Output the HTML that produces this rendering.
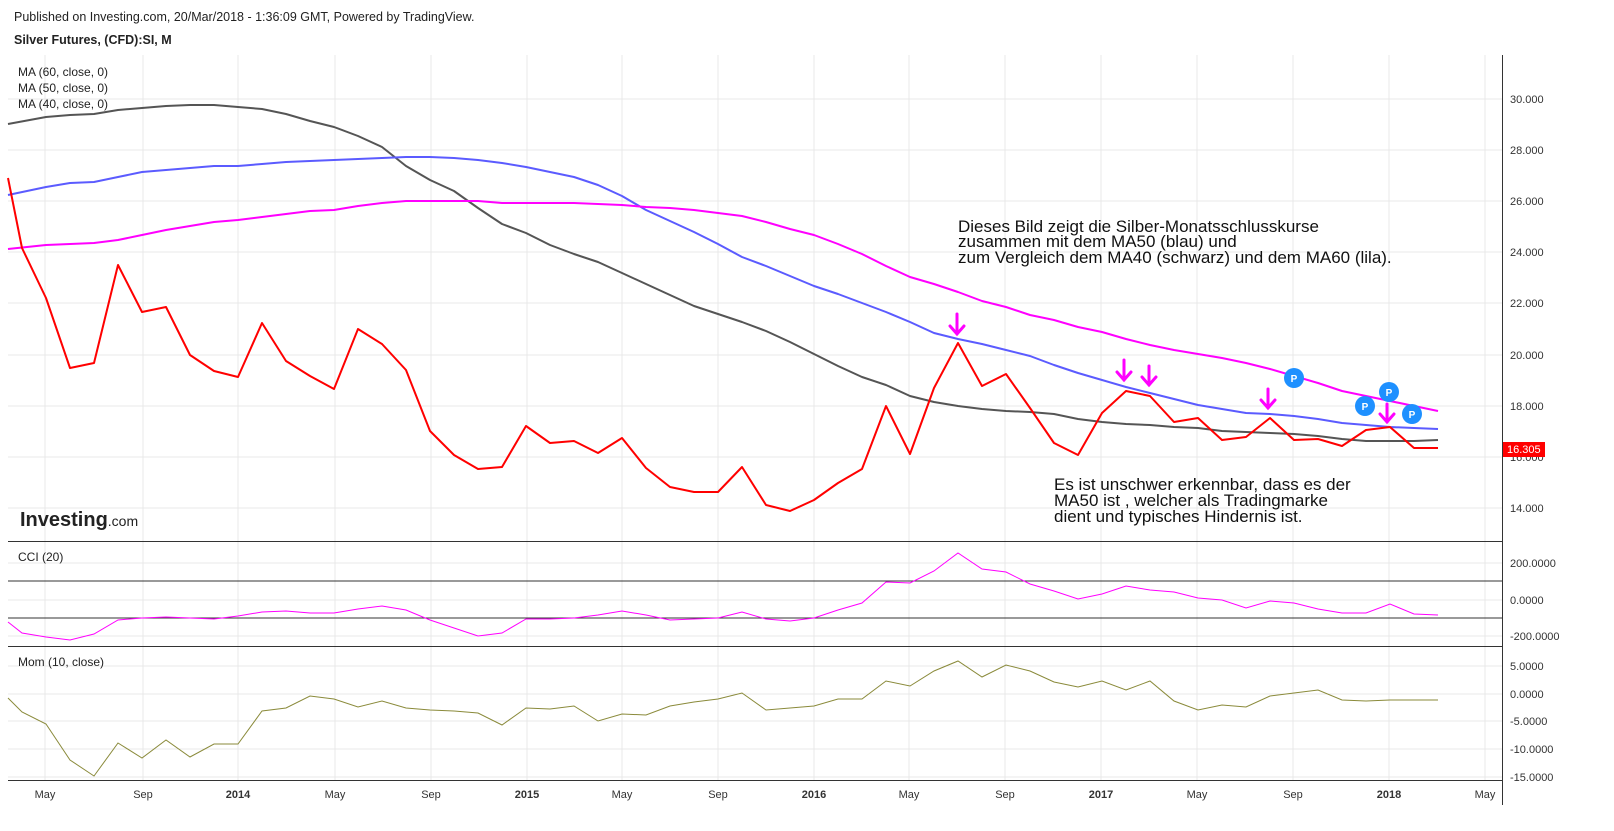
<!DOCTYPE html>
<html><head><meta charset="utf-8"><style>
body{margin:0;background:#fff;width:1614px;height:831px;overflow:hidden;font-family:"Liberation Sans",sans-serif}
svg{display:block}
</style></head><body>
<svg width="1614" height="831" xmlns="http://www.w3.org/2000/svg" font-family="Liberation Sans, sans-serif">
<rect width="1614" height="831" fill="#fff"/>
<text x="14" y="21" font-size="12.5" fill="#222">Published on Investing.com, 20/Mar/2018 - 1:36:09 GMT, Powered by TradingView.</text>
<text x="14" y="44" font-size="12.5" font-weight="bold" fill="#222">Silver Futures, (CFD):SI, M</text>
<g stroke="#e8e8e8" stroke-width="1">
<line x1="45" y1="55" x2="45" y2="780"/><line x1="143" y1="55" x2="143" y2="780"/><line x1="238" y1="55" x2="238" y2="780"/><line x1="335" y1="55" x2="335" y2="780"/><line x1="431" y1="55" x2="431" y2="780"/><line x1="527" y1="55" x2="527" y2="780"/><line x1="622" y1="55" x2="622" y2="780"/><line x1="718" y1="55" x2="718" y2="780"/><line x1="814" y1="55" x2="814" y2="780"/><line x1="909" y1="55" x2="909" y2="780"/><line x1="1005" y1="55" x2="1005" y2="780"/><line x1="1101" y1="55" x2="1101" y2="780"/><line x1="1197" y1="55" x2="1197" y2="780"/><line x1="1293" y1="55" x2="1293" y2="780"/><line x1="1389" y1="55" x2="1389" y2="780"/><line x1="1485" y1="55" x2="1485" y2="780"/>
<line x1="8" y1="99" x2="1502" y2="99"/><line x1="8" y1="150" x2="1502" y2="150"/><line x1="8" y1="201" x2="1502" y2="201"/><line x1="8" y1="252" x2="1502" y2="252"/><line x1="8" y1="303" x2="1502" y2="303"/><line x1="8" y1="355" x2="1502" y2="355"/><line x1="8" y1="406" x2="1502" y2="406"/><line x1="8" y1="457" x2="1502" y2="457"/><line x1="8" y1="508" x2="1502" y2="508"/>
<line x1="8" y1="563" x2="1502" y2="563"/><line x1="8" y1="600" x2="1502" y2="600"/><line x1="8" y1="636" x2="1502" y2="636"/>
<line x1="8" y1="666" x2="1502" y2="666"/><line x1="8" y1="694" x2="1502" y2="694"/><line x1="8" y1="721" x2="1502" y2="721"/><line x1="8" y1="749" x2="1502" y2="749"/><line x1="8" y1="777" x2="1502" y2="777"/>
</g>
<g stroke="#333" stroke-width="1"><line x1="8" y1="541.5" x2="1502" y2="541.5"/><line x1="8" y1="646.5" x2="1502" y2="646.5"/><line x1="8" y1="780.5" x2="1502" y2="780.5"/><line x1="1502.5" y1="55" x2="1502.5" y2="805"/><line x1="8" y1="581" x2="1502" y2="581"/><line x1="8" y1="618" x2="1502" y2="618"/></g>
<g font-size="11" fill="#333">
<text x="1510" y="103">30.000</text><text x="1510" y="154">28.000</text><text x="1510" y="205">26.000</text><text x="1510" y="256">24.000</text><text x="1510" y="307">22.000</text><text x="1510" y="359">20.000</text><text x="1510" y="410">18.000</text><text x="1510" y="461">16.000</text><text x="1510" y="512">14.000</text>
<text x="1510" y="567">200.0000</text><text x="1510" y="604">0.0000</text><text x="1510" y="640">-200.0000</text>
<text x="1510" y="670">5.0000</text><text x="1510" y="698">0.0000</text><text x="1510" y="725">-5.0000</text><text x="1510" y="753">-10.0000</text><text x="1510" y="781">-15.0000</text>
</g>
<rect x="1503" y="442" width="42" height="15" fill="#f00"/><text x="1507" y="453" font-size="11" fill="#fff">16.305</text>
<g font-size="11" fill="#333" text-anchor="middle">
<text x="45" y="798">May</text><text x="143" y="798">Sep</text><text x="238" y="798" font-weight="bold">2014</text><text x="335" y="798">May</text><text x="431" y="798">Sep</text><text x="527" y="798" font-weight="bold">2015</text><text x="622" y="798">May</text><text x="718" y="798">Sep</text><text x="814" y="798" font-weight="bold">2016</text><text x="909" y="798">May</text><text x="1005" y="798">Sep</text><text x="1101" y="798" font-weight="bold">2017</text><text x="1197" y="798">May</text><text x="1293" y="798">Sep</text><text x="1389" y="798" font-weight="bold">2018</text><text x="1485" y="798">May</text>
</g>
<g font-size="12" fill="#222"><text x="18" y="76">MA (60, close, 0)</text><text x="18" y="92">MA (50, close, 0)</text><text x="18" y="108">MA (40, close, 0)</text><text x="18" y="561">CCI (20)</text><text x="18" y="666">Mom (10, close)</text></g>
<text x="20" y="526" font-size="20" font-weight="bold" fill="#222">Investing<tspan font-size="14" font-weight="normal">.com</tspan></text>
<g fill="none" stroke-width="2" stroke-linejoin="round">
<polyline stroke="#555" points="8,124 46,117 70,115 94,114 118,110 142,108 166,106 190,105 214,105 238,107 262,109 286,114 310,121 334,127 358,136 382,147 406,166 430,180 454,191 478,208 502,224 526,233 550,245 574,254 598,262 622,273 646,284 670,295 694,306 718,314 742,322 766,331 790,342 814,354 838,366 862,377 886,385 910,396 934,402 958,406 982,409 1006,411 1030,412 1054,414 1078,419 1102,422 1126,424 1150,425 1174,427 1198,428 1222,431 1246,432 1270,433 1294,434 1318,436 1342,439 1366,441 1390,441 1414,441 1438,440"/>
<polyline stroke="#5b5bff" points="8,195 46,187 70,183 94,182 118,177 142,172 166,170 190,168 214,166 238,166 262,164 286,162 310,161 334,160 358,159 382,158 406,157 430,157 454,158 478,160 502,163 526,167 550,172 574,177 598,185 622,196 646,210 670,221 694,232 718,244 742,257 766,266 790,276 814,286 838,294 862,303 886,312 910,322 934,333 958,339 982,344 1006,350 1030,356 1054,365 1078,373 1102,380 1126,387 1150,393 1174,399 1198,405 1222,409 1246,413 1270,414 1294,416 1318,419 1342,423 1366,425 1390,427 1414,428 1438,429"/>
<polyline stroke="#f0f" points="8,249 46,245 70,244 94,243 118,240 142,235 166,230 190,226 214,222 238,220 262,217 286,214 310,211 334,210 358,206 382,203 406,201 430,201 454,201 478,201 502,203 526,203 550,203 574,203 598,204 622,205 646,207 670,208 694,210 718,213 742,216 766,222 790,229 814,235 838,244 862,254 886,266 910,277 934,284 958,292 982,301 1006,307 1030,315 1054,320 1078,327 1102,332 1126,339 1150,345 1174,350 1198,354 1222,358 1246,363 1270,369 1294,376 1318,383 1342,391 1366,396 1390,401 1414,406 1438,411"/>
<polyline stroke="#f00" points="8,178 22,248 46,298 70,368 94,363 118,265 142,312 166,307 190,355 214,371 238,377 262,323 286,361 310,376 334,389 358,329 382,344 406,370 430,431 454,455 478,469 502,467 526,426 550,443 574,441 598,453 622,438 646,468 670,487 694,492 718,492 742,467 766,505 790,511 814,500 838,483 862,469 886,406 910,454 934,388 958,343 982,386 1006,374 1030,408 1054,443 1078,455 1102,413 1126,391 1150,396 1174,422 1198,418 1222,440 1246,437 1270,418 1294,440 1318,439 1342,446 1366,430 1390,427 1414,448 1438,448"/>
</g>
<polyline fill="none" stroke="#f0f" stroke-width="1" points="8,622 22,633 46,637 70,640 94,634 118,620 142,618 166,617 190,618 214,619 238,616 262,612 286,611 310,613 334,613 358,609 382,606 406,610 430,620 454,628 478,636 502,633 526,619 550,619 574,618 598,615 622,611 646,615 670,620 694,619 718,618 742,612 766,619 790,621 814,618 838,610 862,603 886,582 910,583 934,571 958,553 982,569 1006,572 1030,584 1054,591 1078,599 1102,594 1126,586 1150,590 1174,592 1198,598 1222,600 1246,608 1270,601 1294,603 1318,609 1342,613 1366,613 1390,604 1414,614 1438,615"/>
<polyline fill="none" stroke="#8a8a3a" stroke-width="1" points="8,698 22,712 46,724 70,760 94,776 118,743 142,758 166,740 190,757 214,744 238,744 262,711 286,708 310,696 334,699 358,707 382,701 406,708 430,710 454,711 478,713 502,725 526,708 550,709 574,706 598,721 622,714 646,715 670,706 694,702 718,699 742,693 766,710 790,708 814,706 838,699 862,699 886,681 910,686 934,671 958,661 982,677 1006,665 1030,671 1054,682 1078,687 1102,681 1126,690 1150,681 1174,701 1198,710 1222,705 1246,707 1270,696 1294,693 1318,690 1342,700 1366,701 1390,700 1414,700 1438,700"/>
<g stroke="#f0f" stroke-width="3" fill="none" stroke-linecap="round">
<path d="M957,314V334M950,326L957,334L964,326"/><path d="M1124,360V380M1117,372L1124,380L1131,372"/><path d="M1149,366V385M1142,377L1149,385L1156,377"/><path d="M1268,389V408M1261,400L1268,408L1275,400"/><path d="M1387,404V422M1380,414L1387,422L1394,414"/>
</g>
<g font-size="10" font-weight="bold" fill="#fff" text-anchor="middle">
<circle cx="1294" cy="378" r="10" fill="#1e90ff"/><text x="1294" y="382">P</text>
<circle cx="1365" cy="406" r="10" fill="#1e90ff"/><text x="1365" y="410">P</text>
<circle cx="1389" cy="392" r="10" fill="#1e90ff"/><text x="1389" y="396">P</text>
<circle cx="1412" cy="414" r="10" fill="#1e90ff"/><text x="1412" y="418">P</text>
</g>
<g font-size="17" fill="#111">
<text x="958" y="232">Dieses Bild zeigt die Silber-Monatsschlusskurse</text>
<text x="958" y="247">zusammen mit dem MA50 (blau) und</text>
<text x="958" y="263">zum Vergleich dem MA40 (schwarz) und dem MA60 (lila).</text>
<text x="1054" y="490">Es ist unschwer erkennbar, dass es der</text>
<text x="1054" y="506">MA50 ist , welcher als Tradingmarke</text>
<text x="1054" y="522">dient und typisches Hindernis ist.</text>
</g>
</svg>
</body></html>
